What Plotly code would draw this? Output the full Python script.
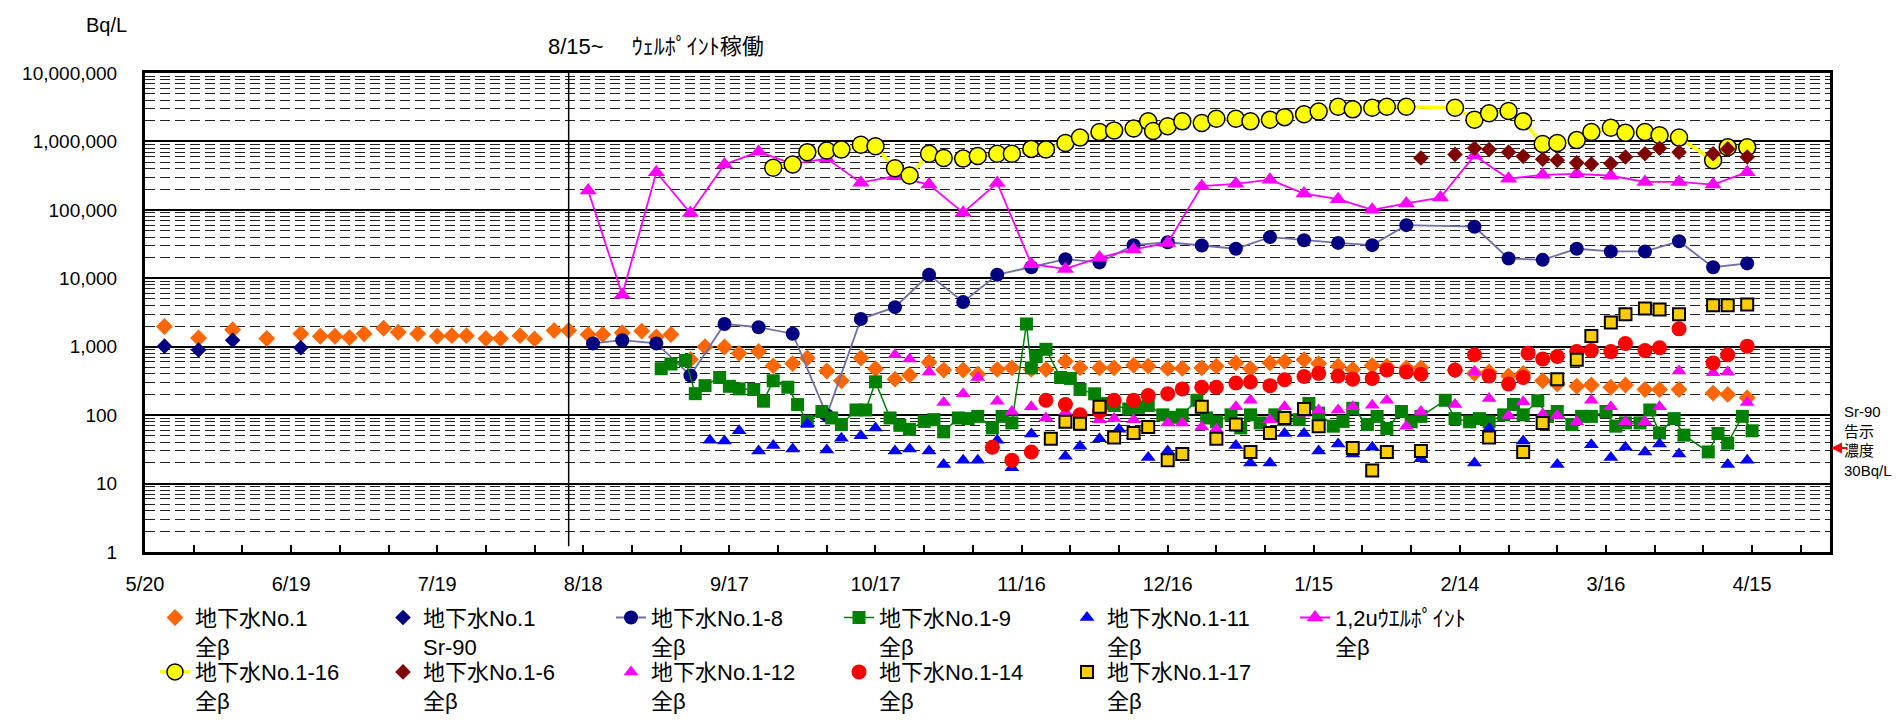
import plotly.graph_objects as go
import pandas as pd

# ---------------- data (month/day, 2013-05 .. 2014-04) ----------------
d_no1 = ["5/24","5/31","6/7","6/14","6/21","6/25","6/28","7/1","7/4","7/8","7/11","7/15","7/19","7/22","7/25",
         "7/29","8/1","8/5","8/8","8/12","8/15","8/19","8/22","8/26","8/30","9/2","9/5","9/9","9/12","9/16",
         "9/19","9/23","9/26","9/30","10/3","10/7","10/10","10/14","10/17","10/21","10/24","10/28","10/31","11/4","11/7",
         "11/11","11/14","11/18","11/21","11/25","11/28","12/2","12/5","12/9","12/12","12/16","12/19","12/23","12/26","12/30",
         "1/2","1/6","1/9","1/13","1/16","1/20","1/23","1/27","1/30","2/3","2/6","2/13","2/17","2/20","2/24",
         "2/27","3/3","3/6","3/10","3/13","3/17","3/20","3/24","3/27","3/31","4/7","4/10","4/14"]
v_no1 = [1970,1340,1770,1320,1550,1420,1420,1360,1550,1860,1630,1550,1420,1450,1450,
         1320,1320,1450,1300,1730,1730,1510,1510,1600,1690,1390,1510,650,1000,990,
         800,850,525,567,684,441,318,684,476,336,383,592,457,457,396,
         466,491,466,466,611,491,491,491,537,520,482,482,491,520,580,
         476,580,611,646,567,520,466,531,520,491,491,457,408,426,374,
         408,318,285,264,276,256,276,237,237,237,210,201,179]

d_sr90 = ["5/24","5/31","6/7","6/21"]
v_sr90 = [1020,897,1245,968]

d_18 = ["8/20","8/26","9/2","9/9","9/16","9/23","9/30","10/7","10/14","10/21","10/28","11/4","11/11","11/18","11/25",
        "12/2","12/9","12/16","12/23","12/30","1/6","1/13","1/20","1/27","2/3","2/17","2/24","3/3","3/10","3/17",
        "3/24","3/31","4/7","4/14"]
v_18 = [1117,1245,1117,380,2150,1925,1550,100,2535,3785,11270,4510,11270,14490,19000,
        17070,30460,33600,30100,27000,40000,35900,32900,30500,59800,56700,19450,18600,27000,24700,
        24700,34700,14500,16500]

d_19 = ["9/3","9/5","9/8","9/10","9/12","9/15","9/17","9/19","9/22","9/24","9/26","9/29","10/1","10/3","10/6",
        "10/8","10/10","10/13","10/15","10/17","10/20","10/22","10/24","10/27","10/29","10/31","11/3","11/5","11/7","11/10",
        "11/12","11/14","11/17","11/18","11/19","11/21","11/24","11/26","11/28","12/1","12/3","12/5","12/8","12/10","12/12",
        "12/15","12/17","12/19","12/22","12/24","12/26","12/29","12/31","1/2","1/4","1/7","1/9","1/12","1/14","1/16",
        "1/19","1/21","1/23","1/26","1/28","1/30","2/2","2/4","2/6","2/11","2/13","2/16","2/18","2/20","2/23",
        "2/25","2/27","3/2","3/4","3/6","3/9","3/11","3/13","3/16","3/18","3/20","3/23","3/25","3/27","3/30",
        "4/1","4/6","4/8","4/10","4/13","4/15"]
v_19 = [477,560,630,206,270,355,264,242,237,160,318,256,143,81,113,
        91,73,119,119,307,91,71,62,81,86,57,91,89,96,65,
        96,77,2150,491,720,916,355,344,237,205,148,138,123,130,138,
        101,93,101,165,91,80,101,65,101,77,101,86,86,148,107,
        69,81,126,73,96,64,113,80,96,165,89,80,89,80,101,
        143,101,162,96,113,73,96,96,113,69,77,77,119,55,89,
        51,29,54,39,96,59]

d_111 = ["9/13","9/16","9/19","9/23","9/26","9/30","10/3","10/7","10/10","10/14","10/17","10/21","10/24","10/28","10/31",
         "11/4","11/7","11/11","11/14","11/18","11/25","11/28","12/2","12/6","12/9","12/12","12/16","12/30","1/2","1/6",
         "1/9","1/13","1/16","1/20","1/23","1/27","1/30","2/6","2/17","2/20","2/27","3/6","3/13","3/17","3/20",
         "3/24","3/27","3/31","4/10","4/14"]
v_111 = [43,42,59,30,36,32,75,31,46,50,65,30,32,30,19,
         22,22,43,17,53,25,35,45,62,50,24,30,36,20,20,
         54,54,30,38,27,34,30,23,20,64,42,19,37,24,34,
         29,38,27,19,22]

d_wp = ["8/19","8/26","9/2","9/9","9/16","9/23","9/30","10/7","10/14","10/21","10/28","11/4","11/11","11/18","11/25",
        "12/2","12/9","12/16","12/23","12/30","1/6","1/13","1/20","1/27","2/3","2/10","2/17","2/24","3/3","3/10",
        "3/17","3/24","3/31","4/7","4/14"]
v_wp = [192000,5740,355000,89800,461000,705000,470000,561000,250000,310000,234000,91000,247000,16100,13700,
        20100,26400,32900,222000,240000,276000,173000,143000,100000,124000,151000,625000,285000,325000,336000,
        315000,256000,256000,234000,355000]

d_116 = ["9/26","9/30","10/3","10/7","10/10","10/14","10/17","10/21","10/24","10/28","10/31","11/4","11/7","11/11","11/14",
         "11/18","11/21","11/25","11/28","12/2","12/5","12/9","12/12","12/13","12/16","12/19","12/23","12/26","12/30","1/2",
         "1/6","1/9","1/13","1/16","1/20","1/23","1/27","1/30","2/3","2/13","2/17","2/20","2/24","2/27","3/3",
         "3/6","3/10","3/13","3/17","3/20","3/24","3/27","3/31","4/7","4/10","4/14"]
v_116 = [413000,461000,697000,736000,761000,896000,848000,405000,318000,661000,573000,561000,611000,661000,661000,
         778000,761000,948000,1138000,1371000,1449000,1549000,1966000,1418000,1671000,1966000,1862000,2148000,2148000,1966000,
         2080000,2265000,2500000,2730000,3215000,2944000,3110000,3215000,3215000,3110000,2080000,2580000,2790000,1966000,917000,
         948000,1045000,1371000,1582000,1343000,1371000,1231000,1138000,531000,820000,820000]

d_16 = ["2/6","2/13","2/17","2/20","2/24","2/27","3/3","3/6","3/10","3/13","3/17","3/20","3/24","3/27","3/31",
        "4/7","4/10","4/14"]
v_16 = [573000,646000,795000,761000,697000,605000,548000,531000,486000,466000,476000,591000,661000,795000,697000,
        661000,778000,591000]

d_112 = ["10/21","10/24","10/28","10/31","11/4","11/7","11/11","11/14","11/18","11/21","11/25","12/2","12/5","12/9","12/16",
         "12/19","12/23","12/26","12/30","1/2","1/6","1/9","1/13","1/16","1/20","1/23","1/27","1/30","2/3","2/6",
         "2/13","2/17","2/20","2/24","2/27","3/3","3/6","3/10","3/13","3/17","3/20","3/24","3/27","3/31","4/7",
         "4/10","4/14"]
v_112 = [762,662,426,153,206,355,160,113,133,91,110,86,89,86,77,
         77,67,62,133,165,86,133,107,119,119,133,140,165,69,113,
         143,426,175,99,157,103,99,80,165,133,80,80,133,441,418,
         426,153]

d_114 = ["11/10","11/14","11/18","11/21","11/25","11/28","12/2","12/5","12/9","12/12","12/16","12/19","12/23","12/26","12/30",
         "1/2","1/6","1/9","1/13","1/16","1/20","1/23","1/27","1/30","2/3","2/6","2/13","2/17","2/20","2/24",
         "2/27","2/28","3/3","3/6","3/10","3/13","3/17","3/20","3/24","3/27","3/31","4/7","4/10","4/14"]
v_114 = [34,22,29,165,143,101,113,165,165,194,205,242,256,256,295,
         305,270,329,367,408,374,336,344,456,426,396,456,762,374,285,
         355,805,662,720,849,877,849,1117,877,968,1825,580,762,1020]

d_117 = ["11/22","11/25","11/28","12/2","12/5","12/9","12/12","12/16","12/19","12/23","12/26","12/30","1/2","1/6","1/9",
         "1/13","1/16","1/23","1/27","1/30","2/6","2/20","2/27","3/3","3/6","3/10","3/13","3/17","3/20","3/24",
         "3/27","3/31","4/7","4/10","4/14"]
v_117 = [45,80,75,133,47,55,67,22,27,133,45,73,29,55,91,
         123,69,33,15.5,29,30,47,29,77,336,646,1432,2265,2980,3630,
         3510,2980,4040,4040,4140]

y_tick_vals = [1, 10, 100, 1000, 10000, 100000, 1000000, 10000000]
y_tick_text = ["1", "10", "100", "1,000", "10,000", "100,000", "1,000,000", "10,000,000"]


def to_date(md):
    m, d = (int(p) for p in md.split("/"))
    return f"{2013 if m >= 5 else 2014}-{m:02d}-{d:02d}"


def dates(lst):
    return [to_date(s) for s in lst]


FONT = "Liberation Sans, Arial, Noto Sans CJK JP, sans-serif"
LEGFONT = "Liberation Sans, Arial, Noto Sans CJK JP, sans-serif"

fig = go.Figure()

# row 1 legend
fig.add_trace(go.Scatter(x=dates(d_no1), y=v_no1, mode="markers", name="地下水No.1<br>全β",
                         marker=dict(symbol="diamond", size=13, color="#FF6600"), legend="legend"))
fig.add_trace(go.Scatter(x=dates(d_sr90), y=v_sr90, mode="markers", name="地下水No.1<br>Sr-90",
                         marker=dict(symbol="diamond", size=12, color="#000080"), legend="legend"))
fig.add_trace(go.Scatter(x=dates(d_18), y=v_18, mode="lines+markers", name="地下水No.1-8<br>全β",
                         line=dict(color="#7070A8", width=1.8),
                         marker=dict(symbol="circle", size=14, color="#000080"), legend="legend"))
fig.add_trace(go.Scatter(x=dates(d_19), y=v_19, mode="lines+markers", name="地下水No.1-9<br>全β",
                         line=dict(color="#008000", width=1.5),
                         marker=dict(symbol="square", size=13, color="#008000"), legend="legend"))
fig.add_trace(go.Scatter(x=dates(d_111), y=v_111, mode="markers", name="地下水No.1-11<br>全β",
                         marker=dict(symbol="triangle-up", size=13, color="#0000FF"), legend="legend"))
fig.add_trace(go.Scatter(x=dates(d_wp), y=v_wp, mode="lines+markers", name="1,2uｳｴﾙﾎﾟｲﾝﾄ<br>全β",
                         line=dict(color="#FF00FF", width=1.8),
                         marker=dict(symbol="triangle-up", size=15, color="#FF00FF"), legend="legend"))
# row 2 legend
fig.add_trace(go.Scatter(x=dates(d_116), y=v_116, mode="lines+markers", name="地下水No.1-16<br>全β",
                         line=dict(color="#FFFF00", width=3.5),
                         marker=dict(symbol="circle", size=17, color="#FFFF00",
                                     line=dict(color="black", width=1.5)), legend="legend2"))
fig.add_trace(go.Scatter(x=dates(d_16), y=v_16, mode="markers", name="地下水No.1-6<br>全β",
                         marker=dict(symbol="diamond", size=12, color="#800000"), legend="legend2"))
fig.add_trace(go.Scatter(x=dates(d_112), y=v_112, mode="markers", name="地下水No.1-12<br>全β",
                         marker=dict(symbol="triangle-up", size=13, color="#FF00FF"), legend="legend2"))
fig.add_trace(go.Scatter(x=dates(d_114), y=v_114, mode="markers", name="地下水No.1-14<br>全β",
                         marker=dict(symbol="circle", size=15, color="#FF0000"), legend="legend2"))
fig.add_trace(go.Scatter(x=dates(d_117), y=v_117, mode="markers", name="地下水No.1-17<br>全β",
                         marker=dict(symbol="square", size=12, color="#FFCC00",
                                     line=dict(color="black", width=2)), legend="legend2"))

# axis ticks
major_dates = pd.date_range("2013-05-20", "2014-04-15", freq="30D")
minor_dates = pd.date_range("2013-05-20", "2014-04-30", freq="10D")
minor_y = [m * 10 ** k for k in range(7) for m in range(2, 10)]

L, R, T, B = 137, 79, 65, 168
W, H = 1901, 726
pw, ph = W - L - R, H - T - B


def px_x(x):
    return (x - L) / pw


def px_y(y):
    return (H - B - y) / ph


leg_common = dict(orientation="h", entrywidth=183, entrywidthmode="pixels", valign="top",
                  font=dict(family=LEGFONT, size=22, color="black"), bgcolor="rgba(0,0,0,0)",
                  xanchor="left", yanchor="top", tracegroupgap=0, itemclick=False)

fig.update_layout(
    width=W, height=H,
    margin=dict(l=L, r=R, t=T, b=B, pad=0),
    paper_bgcolor="white", plot_bgcolor="white",
    font=dict(family=FONT, size=20, color="black"),
    showlegend=True,
    legend=dict(x=px_x(147), y=px_y(604), **leg_common),
    legend2=dict(x=px_x(147), y=px_y(660), **leg_common),
    xaxis=dict(
        type="date", range=["2013-05-20", "2014-05-01"],
        tickmode="array", tickvals=[d.strftime("%Y-%m-%d") for d in major_dates],
        ticktext=[f"{d.month}/{d.day}" for d in major_dates],
        ticks="inside", ticklen=7, tickwidth=1.5, tickcolor="black",
        minor=dict(tickmode="array", tickvals=[d.strftime("%Y-%m-%d") for d in minor_dates],
                   ticks="inside", ticklen=7, tickwidth=1.5, tickcolor="black", showgrid=False),
        showgrid=False, zeroline=False,
        showline=True, linecolor="black", linewidth=3, mirror=True,
        tickfont=dict(family=FONT, size=20), ticklabelstandoff=12,
    ),
    yaxis=dict(
        type="log", range=[0, 7],
        tickmode="array", tickvals=y_tick_vals, ticktext=y_tick_text,
        ticks="", showgrid=True, gridcolor="black", gridwidth=2,
        minor=dict(tickmode="array", tickvals=minor_y, ticks="", showgrid=True,
                   gridcolor="#222222", gridwidth=1, griddash="10px,5px"),
        zeroline=False, showline=True, linecolor="black", linewidth=3, mirror=True,
        tickfont=dict(family=FONT, size=19), ticklabelstandoff=21,
    ),
)

# well point start line (8/15)
fig.add_shape(type="line", xref="x", yref="paper", x0="2013-08-15", x1="2013-08-15",
              y0=0.012, y1=1, line=dict(color="black", width=1.5))

fig.add_annotation(xref="paper", yref="paper", x=px_x(98), y=px_y(16), text="Bq/L",
                   showarrow=False, xanchor="center", yanchor="middle",
                   font=dict(family=FONT, size=20))
fig.add_annotation(xref="paper", yref="paper", x=px_x(538), y=px_y(38),
                   text="8/15~　 ｳｪﾙﾎﾟｲﾝﾄ稼働", showarrow=False, xanchor="left", yanchor="middle",
                   font=dict(family=FONT, size=22))
fig.add_annotation(xref="paper", yref="paper", x=px_x(1834), y=px_y(444),
                   text="Sr-90<br>告示<br>濃度<br>30Bq/L", showarrow=False, xanchor="left",
                   yanchor="middle", align="left", font=dict(family=FONT, size=15))
fig.add_annotation(xref="paper", yref="y", x=px_x(1823), y=1.52, text="", showarrow=True,
                   arrowhead=2, arrowsize=1, arrowwidth=2.2, arrowcolor="red",
                   ax=18, ay=0, axref="pixel", ayref="pixel")

fig.write_html("out.html")
